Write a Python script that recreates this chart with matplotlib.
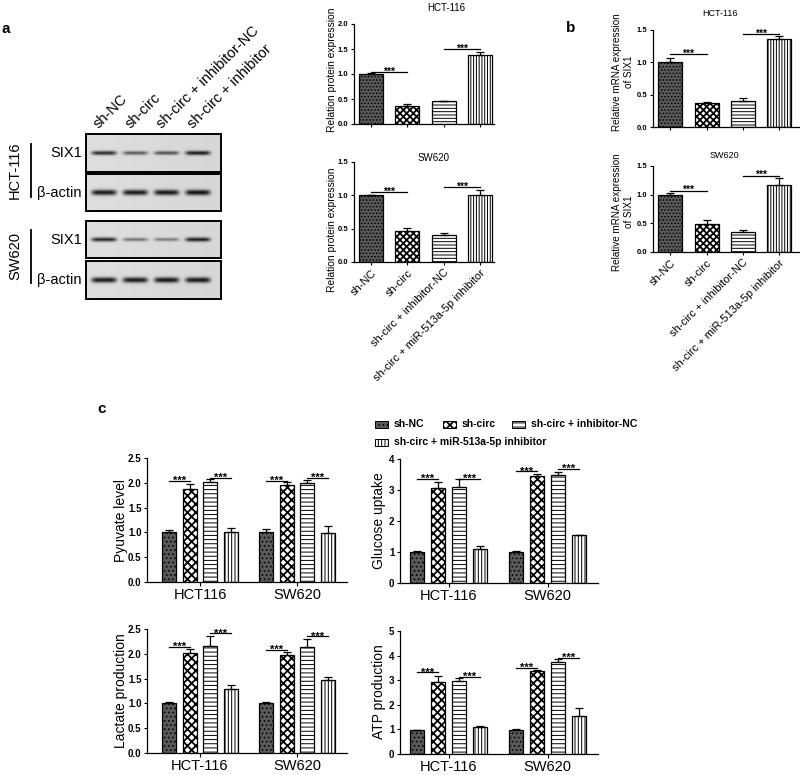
import matplotlib.pyplot as plt
import numpy as np
from matplotlib.patches import Rectangle

plt.rcParams['font.family'] = ['Liberation Sans', 'DejaVu Sans']
plt.rcParams['hatch.linewidth'] = 0.7

W, H = 800, 775

groups = ["sh-NC", "sh-circ", "sh-circ + inhibitor-NC", "sh-circ + miR-513a-5p inhibitor"]
blot_lanes = ["sh-NC", "sh-circ", "sh-circ + inhibitor-NC", "sh-circ + inhibitor"]

# western blot band strength (0-1)
six1_hct = [0.85, 0.62, 0.66, 0.92]
actin_hct = [0.95, 0.95, 0.95, 0.97]
six1_sw = [0.88, 0.50, 0.45, 0.90]
actin_sw = [0.95, 0.95, 0.95, 0.95]

# panel a: relative protein expression
prot_hct = [1.00, 0.37, 0.46, 1.38]
prot_hct_err = [0.02, 0.04, 0.01, 0.06]
prot_sw = [1.00, 0.47, 0.40, 1.01]
prot_sw_err = [0.01, 0.04, 0.03, 0.07]
prot_sig_hct = [1.04, 1.50]
prot_sig_sw = [1.045, 1.12]

# panel b: relative mRNA expression
mrna_hct = [1.00, 0.37, 0.40, 1.36]
mrna_hct_err = [0.06, 0.02, 0.05, 0.05]
mrna_sw = [1.00, 0.48, 0.35, 1.16]
mrna_sw_err = [0.03, 0.07, 0.03, 0.13]
mrna_sig_hct = [1.125, 1.44]
mrna_sig_sw = [1.07, 1.33]

# panel c: rows = groups, cols = cell lines
pyruvate = [[1.00, 1.00], [1.87, 1.95], [2.02, 2.00], [1.00, 0.98]]
pyruvate_err = [[0.05, 0.06], [0.10, 0.07], [0.06, 0.06], [0.08, 0.15]]
pyruvate_sig = [[2.04, 2.10], [2.04, 2.10]]
glucose = [[1.00, 1.00], [3.06, 3.44], [3.09, 3.49], [1.10, 1.54]]
glucose_err = [[0.03, 0.03], [0.19, 0.08], [0.26, 0.10], [0.08, 0.02]]
glucose_sig = [[3.35, 3.35], [3.60, 3.68]]
lactate = [[1.00, 1.00], [2.02, 1.98], [2.16, 2.13], [1.29, 1.47]]
lactate_err = [[0.02, 0.02], [0.07, 0.06], [0.19, 0.16], [0.08, 0.07]]
lactate_sig = [[2.14, 2.41], [2.08, 2.35]]
atp = [[0.96, 0.98], [2.94, 3.37], [2.96, 3.72], [1.08, 1.56]]
atp_err = [[0.02, 0.03], [0.24, 0.03], [0.11, 0.13], [0.04, 0.30]]
atp_sig = [[3.32, 3.14], [3.50, 3.91]]

fcolors = ['#5a5a5a', 'white', 'white', 'white']
hatch_small = ['.....', 'xxxxx', '-----', '||||||']
hatch_big = ['....', 'xxxx', '----', '|||||']

fig = plt.figure(figsize=(8, 7.75), dpi=100)
ov = fig.add_axes([0, 0, 1, 1])
ov.set_xlim(0, W)
ov.set_ylim(H, 0)
ov.axis('off')


def px_axes(x0, y0, x1, y1):
    return fig.add_axes([x0 / W, 1 - y1 / H, (x1 - x0) / W, (y1 - y0) / H])


def style_bar(b, i, hatches):
    b.set_hatch(hatches[i])
    if i == 1 and hasattr(b, 'set_hatch_linewidth'):
        b.set_hatch_linewidth(1.3)


def stars(ax, x, h, size, off):
    ax.annotate('***', xy=(x, h), xytext=(0, off), textcoords='offset points',
                ha='center', va='baseline', fontsize=size, fontweight='bold')


# ---------- panel a: western blot ----------
lane_x = np.linspace(104, 198, 4)


def blot(box, strengths, sig):
    x0, y0, x1, y1 = box
    xs = np.linspace(x0, x1, (x1 - x0) * 3)
    ys = np.linspace(y0, y1, (y1 - y0) * 3)
    X, Y = np.meshgrid(xs, ys)
    img = 0.87 - 0.03 * (X - x0) / (x1 - x0)
    cy = (y0 + y1) / 2
    for cx, s in zip(lane_x, strengths):
        img = img - 0.8 * s * np.exp(-((X - cx) / 12.5) ** 6) * np.exp(-((Y - cy) / (sig * (0.6 + 0.4 * s))) ** 2)
    ov.imshow(np.clip(img, 0, 1), extent=(x0, x1, y1, y0), cmap='gray', vmin=0, vmax=1,
              aspect='auto', interpolation='bilinear')
    ov.add_patch(Rectangle((x0, y0), x1 - x0, y1 - y0, fill=False, lw=1.4, ec='black'))


blot((86, 134, 221, 172), six1_hct, 2.2)
blot((86, 174, 221, 211), actin_hct, 2.8)
blot((86, 221, 221, 258), six1_sw, 2.2)
blot((86, 261, 221, 299), actin_sw, 2.8)
ov.set_xlim(0, W)
ov.set_ylim(H, 0)

for cx, name in zip(lane_x, blot_lanes):
    ov.text(cx - 5, 129, name, rotation=45, rotation_mode='anchor', ha='left', va='baseline', fontsize=10.5)
for y, name in [(153, 'SIX1'), (192.5, 'β-actin'), (239.5, 'SIX1'), (280, 'β-actin')]:
    ov.text(82, y, name, ha='right', va='center', fontsize=10.5)
ov.plot([31, 31], [144, 197], color='black', lw=1.3)
ov.plot([31, 31], [230, 283], color='black', lw=1.3)
ov.text(15, 170.5, 'HCT-116', rotation=90, ha='center', va='center', fontsize=10.5)
ov.text(15, 256.5, 'SW620', rotation=90, ha='center', va='center', fontsize=10.5)

ov.text(6, 29, 'a', ha='center', va='center', fontsize=11, fontweight='bold')
ov.text(571, 28, 'b', ha='center', va='center', fontsize=11, fontweight='bold')
ov.text(102, 409, 'c', ha='center', va='center', fontsize=11, fontweight='bold')


# ---------- panels a/b: small bar charts ----------
def small_chart(box, xlim, ymax, vals, errs, sig, show_x):
    ax = px_axes(*box)
    x = np.arange(4)
    bars = ax.bar(x, vals, width=0.66, color=fcolors, edgecolor='black', linewidth=0.9, zorder=2)
    for i, b in enumerate(bars):
        style_bar(b, i, hatch_small)
    ax.errorbar(x, vals, yerr=[np.zeros(4), errs], fmt='none', ecolor='black',
                elinewidth=0.9, capsize=3, capthick=0.9, zorder=3)
    for (i, j), h in zip([(0, 1), (2, 3)], sig):
        ax.plot([i, j], [h, h], color='black', lw=0.9)
        stars(ax, (i + j) / 2, h, 7.5, -1.8)
    ax.set_xlim(*xlim)
    ax.set_ylim(0, ymax)
    ax.set_yticks(np.arange(0, ymax + 0.01, 0.5))
    ax.set_yticklabels(['%.1f' % v for v in np.arange(0, ymax + 0.01, 0.5)], fontsize=5.5, fontweight='bold')
    ax.set_xticks(x)
    if show_x:
        ax.set_xticklabels(groups, rotation=45, ha='right', rotation_mode='anchor', fontsize=8)
    else:
        ax.set_xticklabels([])
    ax.tick_params(length=2.5, width=0.8, pad=1.5)
    for s in ['top', 'right']:
        ax.spines[s].set_visible(False)
    for s in ['left', 'bottom']:
        ax.spines[s].set_linewidth(0.9)
    ax.patch.set_alpha(0)
    return ax


small_chart((354, 24, 494, 124), (-0.47, 3.39), 2.0, prot_hct, prot_hct_err, prot_sig_hct, False)
small_chart((354, 162, 494, 262), (-0.47, 3.39), 1.5, prot_sw, prot_sw_err, prot_sig_sw, True)
small_chart((653, 30, 799, 127), (-0.48, 3.55), 1.5, mrna_hct, mrna_hct_err, mrna_sig_hct, False)
small_chart((653, 166, 799, 252), (-0.48, 3.55), 1.5, mrna_sw, mrna_sw_err, mrna_sig_sw, True)

ov.text(446, 8, 'HCT-116', ha='center', va='center', fontsize=7)
ov.text(434, 158, 'SW620', ha='center', va='center', fontsize=7)
ov.text(720, 14, 'HCT-116', ha='center', va='center', fontsize=6.5)
ov.text(724, 156, 'SW620', ha='center', va='center', fontsize=6.5)
ov.text(332, 70, 'Relation protein expression', rotation=90, ha='center', va='center', fontsize=7.4)
ov.text(332, 230, 'Relation protein expression', rotation=90, ha='center', va='center', fontsize=7.4)
ov.text(623, 72, 'Relative mRNA expression\nof SIX1', rotation=90, ha='center', va='center',
        fontsize=7.1, multialignment='center')
ov.text(623, 212, 'Relative mRNA expression\nof SIX1', rotation=90, ha='center', va='center',
        fontsize=7.1, multialignment='center')


# ---------- panel c ----------
offs = np.array([-1.5, -0.5, 0.5, 1.5]) * 0.2134


def big_chart(box, xlim, ymax, step, fmt, vals, errs, sig, xlabels):
    ax = px_axes(*box)
    vals = np.array(vals)
    errs = np.array(errs)
    gx = np.arange(2)
    for i in range(4):
        bars = ax.bar(gx + offs[i], vals[i], width=0.144, color=fcolors[i], edgecolor='black',
                      linewidth=0.9, zorder=2)
        for b in bars:
            style_bar(b, i, hatch_big)
        ax.errorbar(gx + offs[i], vals[i], yerr=[np.zeros(2), errs[i]], fmt='none', ecolor='black',
                    elinewidth=0.9, capsize=2.6, capthick=0.9, zorder=3)
    for g in range(2):
        for (i, j), h in zip([(0, 1), (2, 3)], sig[g]):
            xa, xb = g + offs[i], g + offs[j]
            ax.plot([xa, xb], [h, h], color='black', lw=0.9)
            stars(ax, (xa + xb) / 2, h, 8, -2.2)
    ax.set_xlim(*xlim)
    ax.set_ylim(0, ymax)
    ticks = np.arange(0, ymax + 0.01, step)
    ax.set_yticks(ticks)
    ax.set_yticklabels([fmt % v for v in ticks], fontsize=7, fontweight='bold')
    ax.set_xticks(gx)
    ax.set_xticklabels(xlabels, fontsize=10.5)
    ax.tick_params(axis='y', length=2.5, width=0.8, pad=1.5)
    ax.tick_params(axis='x', length=3, width=0.8, pad=1)
    for s in ['top', 'right']:
        ax.spines[s].set_visible(False)
    for s in ['left', 'bottom']:
        ax.spines[s].set_linewidth(0.9)
    ax.patch.set_alpha(0)
    return ax


big_chart((147, 458, 347, 582), (-0.546, 1.515), 2.5, 0.5, '%.1f', pyruvate, pyruvate_err, pyruvate_sig,
          ['HCT116', 'SW620'])
big_chart((400, 459, 598, 583), (-0.49, 1.51), 4, 1, '%d', glucose, glucose_err, glucose_sig,
          ['HCT-116', 'SW620'])
big_chart((147, 629, 347, 753), (-0.546, 1.515), 2.5, 0.5, '%.1f', lactate, lactate_err, lactate_sig,
          ['HCT-116', 'SW620'])
big_chart((400, 631, 598, 754), (-0.49, 1.51), 5, 1, '%d', atp, atp_err, atp_sig,
          ['HCT-116', 'SW620'])

ov.text(121, 520, 'Pyuvate level', rotation=90, ha='center', va='center', fontsize=10)
ov.text(379, 521, 'Glucose uptake', rotation=90, ha='center', va='center', fontsize=10)
ov.text(121, 691, 'Lactate production', rotation=90, ha='center', va='center', fontsize=10)
ov.text(379, 692, 'ATP production', rotation=90, ha='center', va='center', fontsize=10)

# legend for panel c
leg_pos = [(375, 424), (443, 424), (512, 424), (375, 442)]
for i, ((lx, ly), name) in enumerate(zip(leg_pos, groups)):
    p = Rectangle((lx, ly - 3.5), 13, 7, facecolor=fcolors[i], edgecolor='black', lw=0.7)
    style_bar(p, i, hatch_big)
    ov.add_patch(p)
    ov.text(lx + 19, ly, name, ha='left', va='center', fontsize=7.5, fontweight='bold')

fig.savefig('out.png', dpi=100, facecolor='white')
